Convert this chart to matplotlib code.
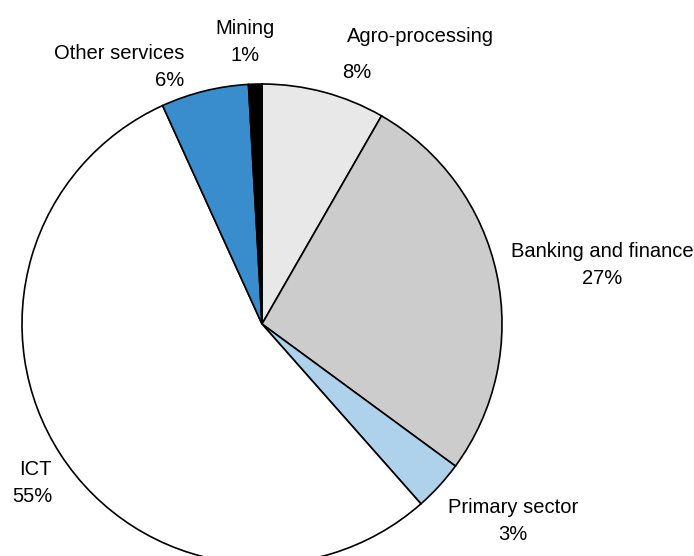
import matplotlib
matplotlib.use("Agg")
import matplotlib.pyplot as plt

# sector shares (percent), clockwise from 12 o'clock
sectors = ["Agro-processing", "Banking and finance", "Primary sector", "ICT",
           "Other services", "Mining"]
shares = [8.3, 26.8, 3.4, 54.75, 5.9, 0.9]
shown = ["8%", "27%", "3%", "55%", "6%", "1%"]
colors = ["#e8e8e8", "#cccccc", "#aed1ec", "#ffffff", "#3a8dcc", "#000000"]

plt.rcParams['font.family'] = ['Liberation Sans', 'DejaVu Sans']

fig = plt.figure(figsize=(6.94, 5.56), dpi=100)
ax = fig.add_axes([0, 0, 1, 1])
ax.pie(shares, colors=colors, startangle=90, counterclock=False, radius=1.0,
       wedgeprops=dict(edgecolor="black", linewidth=1.2))
ax.set_xlim(-262 / 240, 432 / 240)
ax.set_ylim(-232 / 240, 324 / 240)
ax.set_aspect("equal")
ax.axis("off")

fs = 14.5
ls = 1.5
def px(x, y):
    return (x - 262) / 240, (324 - y) / 240

# label placement (pixel positions in the original layout)
x, y = px(245, 42)
ax.text(x, y, sectors[5] + "\n" + shown[5], ha="center", va="center", fontsize=fs, linespacing=ls)
x, y = px(184, 67)
ax.text(x, y, sectors[4] + "\n" + shown[4], ha="right", va="center", fontsize=fs,
        multialignment="right", linespacing=ls)
x, y = px(420, 37)
ax.text(x, y, sectors[0], ha="center", va="center", fontsize=fs)
x, y = px(357, 72)
ax.text(x, y, shown[0], ha="center", va="center", fontsize=fs)
x, y = px(602, 265)
ax.text(x, y, sectors[1] + "\n" + shown[1], ha="center", va="center", fontsize=fs, linespacing=ls)
x, y = px(513, 521)
ax.text(x, y, sectors[2] + "\n" + shown[2], ha="center", va="center", fontsize=fs, linespacing=ls)
x, y = px(52, 483)
ax.text(x, y, sectors[3] + "\n" + shown[3], ha="right", va="center", fontsize=fs,
        multialignment="right", linespacing=ls)

fig.savefig("out.png", dpi=100)
